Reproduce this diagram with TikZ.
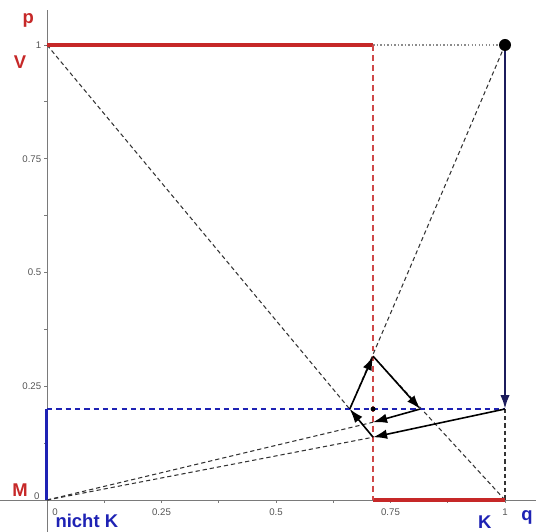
\documentclass[tikz,border=0pt]{standalone}
\usepackage{fontspec}
\setmainfont{Liberation Sans}
\setsansfont{Liberation Sans}
\usepackage{xcolor}
\usepackage{tikz}
\usetikzlibrary{arrows.meta, calc}
\definecolor{gameRed}{HTML}{C62828}
\definecolor{gameBlue}{HTML}{1E22B4}
\definecolor{gameNavy}{HTML}{1C1C5C}
\definecolor{gameAxis}{HTML}{7A7A7A}
\definecolor{gameTick}{HTML}{555555}
\tikzset{
  game/axis/.style      = {draw=gameAxis, line width=0.5pt},
  game/tick/.style      = {font=\fontsize{5.5}{6}\selectfont, text=gameTick, inner sep=1pt},
  game/redline/.style   = {draw=gameRed, line width=1.8pt},
  game/reddash/.style   = {draw=gameRed!85, line width=1.1pt, dash pattern=on 3.4pt off 2.3pt},
  game/bluedash/.style  = {draw=gameBlue, line width=0.8pt, dash pattern=on 3pt off 2.3pt},
  game/blueline/.style  = {draw=gameBlue, line width=1.7pt},
  game/guide/.style     = {draw=black!80, line width=0.6pt, dash pattern=on 2.4pt off 1.7pt},
  game/dotted/.style    = {draw=black!45, line width=0.6pt, dash pattern=on 0.8pt off 1.2pt},
  game/arrow/.style     = {-{Latex[length=2.8mm,width=1.9mm]}, line width=0.9pt, draw=black},
  game/navy/.style      = {-{Latex[length=2.8mm,width=1.9mm]}, line width=1.4pt, draw=gameNavy},
  game/redlabel/.style  = {font=\bfseries\fontsize{10.5}{12}\selectfont, text=gameRed, inner sep=0pt},
  game/bluelabel/.style = {font=\bfseries\fontsize{10.5}{12}\selectfont, text=gameBlue, inner sep=0pt},
}

\begin{document}
\begin{tikzpicture}[x=9.16cm, y=9.1cm]
  \useasboundingbox (-0.1026,-0.0703) rectangle (1.0677,1.0989);
  % axes and ticks
  \draw[game/axis] (-0.1026,0) -- (1.0677,0);
  \draw[game/axis] (0,-0.0703) -- (0,1.078);
  \foreach \i in {1,...,8}{
    \draw[game/axis] (\i/8,0) -- ++(0,-0.006);
    \draw[game/axis] (0,\i/8) -- ++(-0.006,0);
  }
  \foreach \t in {0.25,0.5,0.75,1}{
    \node[game/tick] (xt\t) at (\t,-0.026) {\t};
    \node[game/tick, anchor=east] (yt\t) at (-0.008,\t) {\t};
  }
  \node[game/tick] (xt0) at (0.0175,-0.026) {0};
  \node[game/tick, anchor=east] (yt0) at (-0.012,0.008) {0};

  % points
  \coordinate (O) at (0,0);
  \coordinate (V) at (0,1);
  \coordinate (T) at (1,1);
  \coordinate (K0) at (1,0);
  \coordinate (Rt) at (0.712,1);
  \coordinate (Rb) at (0.712,0);
  \coordinate (M2) at (0,0.2);
  \coordinate (A) at (1,0.2);
  \coordinate (B) at (0.712,0.138);
  \coordinate (C) at (0.661,0.2);
  \coordinate (D) at (0.712,0.316);
  \coordinate (E) at (0.815,0.2);
  \coordinate (F) at (0.712,0.171);
  \coordinate (G) at (0.712,0.2);

  % dashed guides
  \draw[game/guide] (V) -- (B);
  \draw[game/guide] (T) -- (C);
  \draw[game/guide] (K0) -- (D);
  \draw[game/guide] (O) -- (B);
  \draw[game/guide] (O) -- (F);
  \draw[game/guide] (A) -- (K0);
  \draw[game/dotted] (Rt) -- (T);

  % red and blue lines
  \draw[game/redline] (V) -- (Rt);
  \draw[game/redline] (Rb) -- (K0);
  \draw[game/reddash] (Rt) -- (Rb);
  \draw[game/bluedash] (M2) -- (A);
  \draw[game/blueline] (O) -- (M2);

  % path of the dynamics
  \draw[game/navy] (T) -- (A);
  \draw[game/arrow] (A) -- (B);
  \draw[game/arrow] (B) -- (C);
  \draw[game/arrow] (C) -- (D);
  \draw[game/arrow] (D) -- (E);
  \draw[game/arrow] (E) -- (F);
  \fill (T) circle[radius=0.12cm];
  \fill (G) circle[radius=0.05cm];

  % labels
  \node[game/redlabel] (pl) at (-0.041,1.055) {p};
  \node[game/redlabel] (vl) at (-0.059,0.963) {V};
  \node[game/redlabel] (ml) at (-0.059,0.022) {M};
  \node[game/bluelabel] (nk) at (0.087,-0.047) {nicht K};
  \node[game/bluelabel] (kl) at (0.956,-0.049) {K};
  \node[game/bluelabel] (ql) at (1.048,-0.038) {q};
\end{tikzpicture}
\end{document}
